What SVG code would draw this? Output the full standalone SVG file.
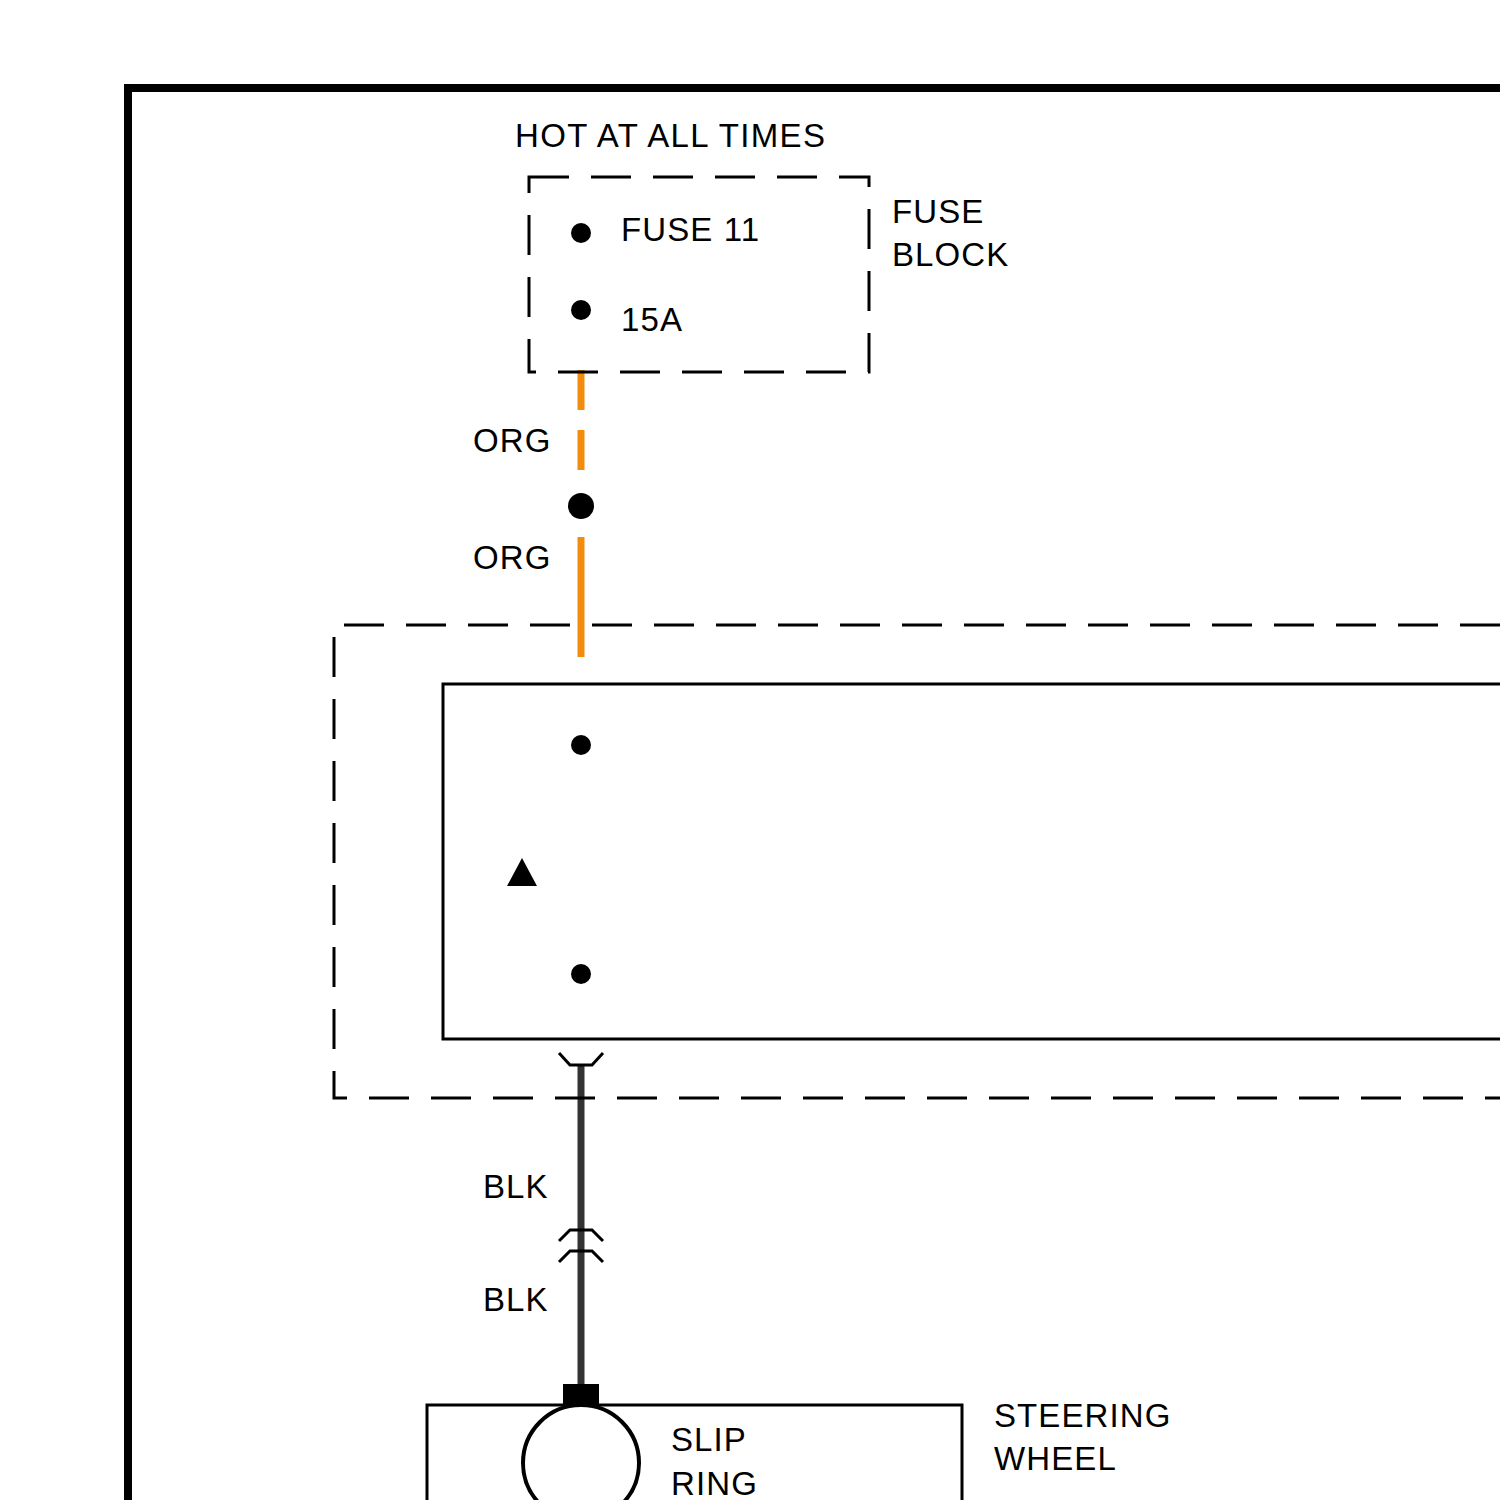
<svg xmlns="http://www.w3.org/2000/svg" width="1500" height="1500" viewBox="0 0 1500 1500">
<style>
text{font-family:"Liberation Sans",Arial,sans-serif;font-size:33px;fill:#000;letter-spacing:1.1px}
.dash{fill:none;stroke:#000;stroke-width:3;stroke-dasharray:40 22}
.solid{fill:none;stroke:#000;stroke-width:3}
.conn{fill:none;stroke:#000;stroke-width:3}
</style>
<rect width="1500" height="1500" fill="#fff"/>
<path d="M128,1500 V88 H1500" fill="none" stroke="#000" stroke-width="8"/>
<g id="connectors">
<line x1="581" y1="370" x2="581" y2="472" stroke="#f28c0f" stroke-width="7" stroke-dasharray="40 20"/>
<line x1="581" y1="537" x2="581" y2="657" stroke="#f28c0f" stroke-width="7"/>
<line x1="581" y1="1065" x2="581" y2="1386" stroke="#333" stroke-width="7"/>
</g>
<g id="fuse-block">
<rect x="529" y="177" width="340" height="195" class="dash"/>
<circle cx="581" cy="233" r="10"/>
<circle cx="581" cy="310" r="10"/>
<text x="515" y="147" textLength="311">HOT AT ALL TIMES</text>
<text x="621" y="241">FUSE 11</text>
<text x="621" y="331">15A</text>
<text x="892" y="223">FUSE</text>
<text x="892" y="266">BLOCK</text>
</g>
<g id="splice">
<circle cx="581" cy="506" r="13"/>
<text x="473" y="452">ORG</text>
<text x="473" y="569">ORG</text>
</g>
<g id="module">
<path d="M1500,625 H334 V1098 H1500" class="dash"/>
<path d="M1500,684 H443 V1039 H1500" class="solid"/>
<circle cx="581" cy="745" r="10"/>
<circle cx="581" cy="974" r="10"/>
<polygon points="522,858 507,886 537,886"/>
<polyline points="559,1053 570,1065 592,1065 603,1053" class="conn"/>
</g>
<g id="inline-connector">
<polyline points="559,1241 570,1230 592,1230 603,1241" class="conn"/>
<polyline points="559,1262 570,1251 592,1251 603,1262" class="conn"/>
<text x="483" y="1198">BLK</text>
<text x="483" y="1311">BLK</text>
</g>
<g id="steering-wheel">
<rect x="563" y="1384" width="36" height="22"/>
<path d="M427,1500 V1405 H962 V1500" class="solid"/>
<circle cx="581" cy="1463" r="58" fill="none" stroke="#000" stroke-width="4"/>
<text x="671" y="1451">SLIP</text>
<text x="671" y="1495">RING</text>
<text x="994" y="1427">STEERING</text>
<text x="994" y="1470">WHEEL</text>
</g>
</svg>
